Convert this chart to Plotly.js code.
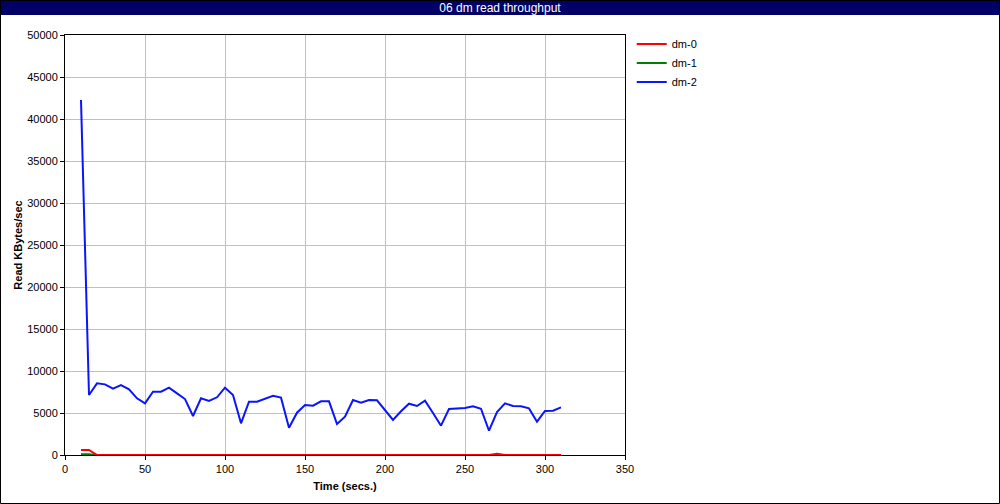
<!DOCTYPE html>
<html>
<head>
<meta charset="utf-8">
<script src="https://cdn.plot.ly/plotly-3.0.1.min.js"></script>
<style>
html,body{margin:0;padding:0;background:#fff;}
#chart{width:1000px;height:504px;}
</style>
</head>
<body>
<div id="chart"></div>
<script>
var timeSecs = [10,15,20,25,30,35,40,45,50,55,60,65,70,75,80,85,90,95,100,105,110,115,120,125,130,135,140,145,150,155,160,165,170,175,180,185,190,195,200,205,210,215,220,225,230,235,240,245,250,255,260,265,270,275,280,285,290,295,300,305,310];
var dm0 = [600,600,0,0,0,0,0,0,0,0,0,0,0,0,0,0,0,0,0,0,0,0,0,0,0,0,0,0,0,0,0,0,0,0,0,0,0,0,0,0,0,0,0,0,0,0,0,0,0,0,0,0,150,0,0,0,0,0,0,0,0];
var dm1 = [100,100,0,0,0,0,0,0,0,0,0,0,0,0,0,0,0,0,0,0,0,0,0,0,0,0,0,0,0,0,0,0,0,0,0,0,0,0,0,0,0,0,0,0,0,0,0,0,0,0,0,0,0,0,0,0,0,0,0,0,0];
var dm2 = [42260,7140,8530,8410,7900,8330,7820,6750,6150,7540,7540,8010,7340,6660,4640,6750,6430,6870,8010,7140,3770,6350,6350,6750,7060,6830,3250,5040,5950,5870,6390,6390,3690,4560,6550,6230,6550,6510,5360,4170,5200,6110,5830,6470,5000,3490,5470,5550,5590,5790,5510,2890,5120,6150,5830,5790,5550,3970,5240,5280,5670];
var seriesNames = ["dm-0","dm-1","dm-2"];
var chartTitle = "06 dm read throughput";
var xTitle = "Time (secs.)";
var yTitle = "Read KBytes/sec";

var font = "Liberation Sans, Arial, sans-serif";
var traces = [
  {x: timeSecs, y: dm1, name: seriesNames[1], mode: "lines", line: {color: "#008000", width: 2}, legendrank: 2},
  {x: timeSecs, y: dm0, name: seriesNames[0], mode: "lines", line: {color: "#ff0000", width: 2}, legendrank: 1},
  {x: timeSecs, y: dm2, name: seriesNames[2], mode: "lines", line: {color: "#0a14ff", width: 2}, legendrank: 3}
];

var layout = {
  width: 1000, height: 504,
  margin: {l: 65, r: 375, t: 35, b: 49, pad: 0},
  paper_bgcolor: "#ffffff", plot_bgcolor: "#ffffff",
  font: {family: font, size: 11, color: "#000"},
  title: {text: chartTitle, font: {family: font, size: 12, color: "#ffffff"}, x: 0.5, xanchor: "center", y: 0.985, yanchor: "middle", yref: "container"},
  showlegend: true,
  legend: {x: 1.012, y: 1.013, xanchor: "left", yanchor: "top", font: {family: font, size: 11, color: "#000"}, bgcolor: "rgba(0,0,0,0)", tracegroupgap: 0},
  xaxis: {
    range: [0, 350], dtick: 50, tick0: 0,
    showgrid: true, gridcolor: "#c0c0c0", gridwidth: 1,
    showline: true, linecolor: "#000", linewidth: 1, mirror: true,
    ticks: "outside", ticklen: 4, tickcolor: "#000",
    zeroline: false,
    tickfont: {family: font, size: 11, color: "#000"},
    title: {text: xTitle, font: {family: font, size: 11, color: "#000", weight: "bold"}, standoff: 8}
  },
  yaxis: {
    range: [0, 50000], dtick: 5000, tick0: 0, tickformat: "d",
    showgrid: true, gridcolor: "#c0c0c0", gridwidth: 1,
    showline: true, linecolor: "#000", linewidth: 1, mirror: true,
    ticks: "outside", ticklen: 4, tickcolor: "#000",
    zeroline: false,
    tickfont: {family: font, size: 11, color: "#000"},
    title: {text: yTitle, font: {family: font, size: 11, color: "#000", weight: "bold"}, standoff: 2}
  },
  shapes: [
    {type: "rect", xref: "paper", yref: "paper", x0: -65/560, x1: 935/560, y0: (455-15)/420, y1: 455/420, fillcolor: "#000066", line: {width: 0}, layer: "below"},
    {type: "rect", xref: "paper", yref: "paper", x0: -64.5/560, x1: 934.5/560, y0: (455-503.5)/420, y1: 454.5/420, fillcolor: "rgba(0,0,0,0)", line: {color: "#000", width: 1}, layer: "above"}
  ]
};

Plotly.newPlot("chart", traces, layout, {displayModeBar: false, staticPlot: true});
</script>
</body>
</html>
